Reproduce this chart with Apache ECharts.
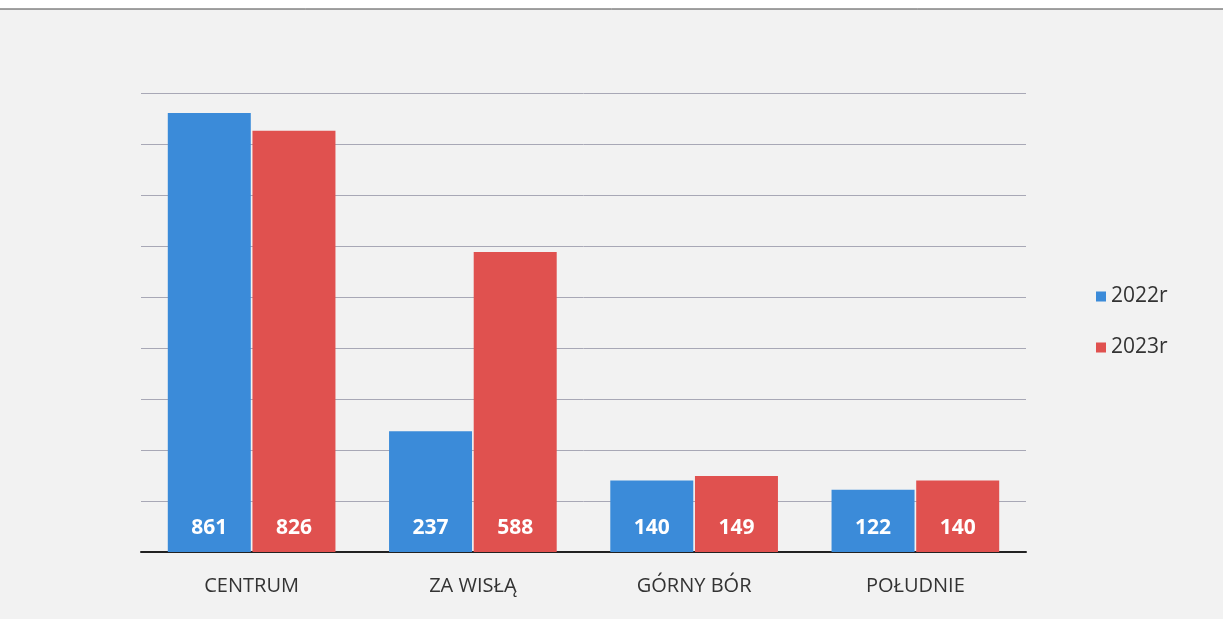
<!DOCTYPE html>
<html>
<head>
<meta charset="utf-8">
<script src="https://cdn.jsdelivr.net/npm/echarts@6/dist/echarts.min.js"></script>
<style>
  html, body { margin: 0; padding: 0; background: #fff; }
  #chart { width: 1223px; height: 619px; }
</style>
</head>
<body>
<div id="chart"></div>
<script>
var categories = ['CENTRUM', 'ZA WISŁĄ', 'GÓRNY BÓR', 'POŁUDNIE'];
var values2022 = [861, 237, 140, 122];
var values2023 = [826, 588, 149, 140];
var seriesNames = ['2022r', '2023r'];

var chart = echarts.init(document.getElementById('chart'));

var barLabel = {
  show: true,
  position: 'insideBottom',
  distance: 13,
  color: '#fff',
  fontSize: 21,
  fontWeight: 'bold',
  fontFamily: 'Open Sans'
};

var option = {
  backgroundColor: '#f2f2f2',
  graphic: [{
    type: 'rect',
    shape: { x: 0, y: 0, width: 1223, height: 9 },
    style: { fill: '#ffffff' }
  }, {
    type: 'line',
    shape: { x1: 0, y1: 9, x2: 1223, y2: 9 },
    style: { stroke: '#444', lineWidth: 1 }
  }],
  legend: {
    orient: 'vertical',
    left: 1091,
    top: 281,
    itemWidth: 10,
    itemHeight: 10,
    itemGap: 30,
    icon: 'rect',
    textStyle: { fontSize: 21, color: '#333', fontFamily: 'Open Sans' },
    data: seriesNames
  },
  grid: { left: 141, right: 197, top: 93, bottom: 67 },
  xAxis: {
    type: 'category',
    data: categories,
    axisLine: { lineStyle: { color: '#222', width: 2 } },
    axisTick: { show: false },
    axisLabel: { fontSize: 20, color: '#333', margin: 24, fontFamily: 'Open Sans' }
  },
  yAxis: {
    type: 'value',
    min: 0,
    max: 900,
    interval: 100,
    axisLabel: { show: false },
    axisLine: { show: false },
    axisTick: { show: false },
    splitLine: { lineStyle: { color: '#a8a8b6', width: 1 } }
  },
  series: [{
    name: seriesNames[0],
    type: 'bar',
    data: values2022,
    barWidth: 83,
    barGap: '2%',
    itemStyle: { color: '#3b8bd9' },
    label: barLabel
  }, {
    name: seriesNames[1],
    type: 'bar',
    data: values2023,
    barWidth: 83,
    barGap: '2%',
    itemStyle: { color: '#e0514f' },
    label: barLabel
  }]
};

chart.setOption(option);
</script>
</body>
</html>
